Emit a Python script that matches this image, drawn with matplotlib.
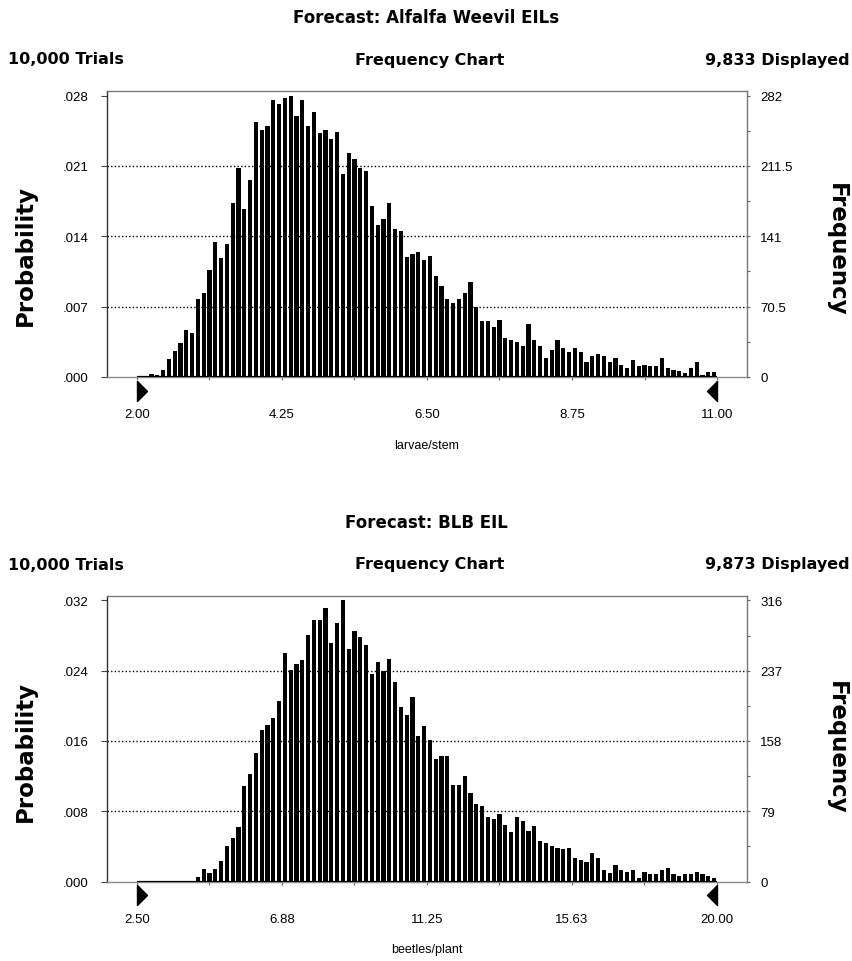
import numpy as np
import matplotlib
matplotlib.use("Agg")
import matplotlib.pyplot as plt
from matplotlib.path import Path

# ---- data ----
trials = 10000

weevil_title = "Forecast: Alfalfa Weevil EILs"
weevil_shown = "9,833 Displayed"
weevil_unit = "larvae/stem"
weevil_range = [2.00, 11.00]
weevil_freq_max = 282
weevil_freq = [0, 0, 3, 2, 7, 18, 26, 34, 47, 44,
               78, 84, 107, 135, 119, 133, 174, 209, 168, 197,
               255, 247, 251, 277, 273, 280, 282, 261, 277, 251,
               265, 244, 247, 238, 245, 203, 224, 218, 209, 206,
               171, 152, 158, 174, 148, 146, 120, 123, 125, 117,
               121, 101, 91, 78, 74, 78, 84, 95, 70, 56,
               56, 50, 57, 39, 37, 35, 31, 53, 37, 31,
               19, 27, 37, 29, 25, 29, 25, 15, 21, 23,
               21, 15, 19, 12, 9, 17, 11, 12, 11, 11,
               19, 9, 7, 6, 4, 9, 15, 2, 5, 5]

blb_title = "Forecast: BLB EIL"
blb_shown = "9,873 Displayed"
blb_unit = "beetles/plant"
blb_range = [2.50, 20.00]
blb_freq_max = 316
blb_freq = [0, 0, 0, 0, 0, 0, 0, 1, 1, 1,
            5, 14, 9, 14, 23, 40, 49, 61, 107, 121,
            144, 170, 176, 184, 203, 257, 238, 245, 249, 277,
            294, 294, 307, 268, 291, 316, 261, 282, 275, 266,
            233, 247, 237, 250, 224, 196, 187, 208, 164, 175,
            159, 138, 141, 141, 108, 108, 119, 99, 87, 85,
            73, 70, 76, 64, 56, 73, 68, 57, 62, 45,
            43, 40, 38, 36, 38, 26, 24, 22, 32, 26,
            13, 10, 18, 13, 11, 13, 4, 11, 8, 8,
            13, 15, 8, 6, 8, 8, 11, 8, 6, 4]

W, H = 853, 962
fig = plt.figure(figsize=(W / 100, H / 100), dpi=100)

HEAD = dict(family="DejaVu Sans", fontweight="bold", fontsize=11.5)
TITLE = dict(family="DejaVu Sans", fontweight="bold", fontsize=12)
SIDE = dict(family="DejaVu Sans", fontweight="bold", fontsize=16.5)
TICKFONT = "Liberation Sans"

# right / left pointing flags under the axis ends
flag_left = Path([(0, 1), (0, -1), (1, 0), (0, 1)])
flag_right = Path([(0, 1), (0, -1), (-1, 0), (0, 1)])


def fy(py):
    return 1 - py / H


def draw_chart(top, bottom, title, shown, unit, xr, fmax, freq, prob_y, freq_y):
    # top/bottom are the frame edges in pixels
    ax = fig.add_axes([107 / W, fy(bottom), 640 / W, (bottom - top) / H])
    lo, hi = xr
    n = len(freq)
    binw = (hi - lo) / n
    centers = lo + (np.arange(n) + 0.5) * binw
    ax.bar(centers, freq, width=binw * 0.7, color="black", zorder=3)
    ax.plot([lo, hi], [0, 0], color="black", lw=1.6, zorder=4, solid_capstyle="butt")

    pad = (hi - lo) * 30 / 580
    ax.set_xlim(lo - pad, hi + pad)
    ax.set_ylim(0, fmax * 1.016)

    yt = np.linspace(0, fmax, 5)
    for v in yt[1:-1]:
        ax.axhline(v, color="black", lw=1, ls=(0, (1, 1.6)), zorder=1)

    xt = np.linspace(lo, hi, 5)
    ax.set_xticks(xt)
    ax.set_xticklabels([f"{v + 1e-9:.2f}" for v in xt], fontsize=9.5, family=TICKFONT)
    ax.set_xticks(np.linspace(lo, hi, 9)[1::2], minor=True)
    ax.tick_params(axis="x", which="both", length=2.5, width=0.8, color="#666666",
                   pad=20)
    ax.set_yticks(yt)
    ax.set_yticklabels([f"{v / trials:.3f}".lstrip("0") for v in yt],
                       fontsize=9.5, family=TICKFONT)
    ax.tick_params(axis="y", length=4, width=0.8, color="#444444", pad=9)

    for s in ["top", "right"]:
        ax.spines[s].set_color("#777777")
        ax.spines[s].set_linewidth(1)
    ax.spines["bottom"].set_color("#888888")
    ax.spines["bottom"].set_linewidth(1)
    ax.spines["left"].set_color("#333333")
    ax.spines["left"].set_linewidth(1)

    axr = ax.twinx()
    axr.set_ylim(ax.get_ylim())
    axr.set_yticks(yt)
    axr.set_yticklabels([f"{v:g}" for v in yt], fontsize=9.5, family=TICKFONT)
    axr.set_yticks((yt[:-1] + yt[1:]) / 2, minor=True)
    axr.tick_params(axis="y", which="both", length=2.5, width=0.8, color="#666666", pad=7)
    for s in axr.spines.values():
        s.set_visible(False)

    tr = ax.get_xaxis_transform()
    yoff = -13.5 / (bottom - top)
    ax.plot([lo], [yoff], marker=flag_left, ms=14.4, color="black",
            transform=tr, clip_on=False, zorder=5)
    ax.plot([hi], [yoff], marker=flag_right, ms=14.4, color="black",
            transform=tr, clip_on=False, zorder=5)

    # header rows
    fig.text(426 / W, fy(top - 74), title, ha="center", va="center", **TITLE)
    fig.text(8 / W, fy(top - 32), "10,000 Trials", ha="left", va="center", **HEAD)
    fig.text(430 / W, fy(top - 32), "Frequency Chart", ha="center", va="center", **HEAD)
    fig.text(850 / W, fy(top - 32), shown, ha="right", va="center", **HEAD)

    fig.text(427 / W, fy(bottom + 68), unit, ha="center", va="center",
             fontsize=9, family=TICKFONT)
    fig.text(25 / W, fy(prob_y), "Probability", rotation=90, ha="center", va="center", **SIDE)
    fig.text(836 / W, fy(freq_y), "Frequency", rotation=270, ha="center", va="center", **SIDE)


draw_chart(92, 378, weevil_title, weevil_shown, weevil_unit, weevil_range,
           weevil_freq_max, weevil_freq, 255, 250)
draw_chart(597, 882.5, blb_title, blb_shown, blb_unit, blb_range,
           blb_freq_max, blb_freq, 752, 748)

fig.savefig("out.png", dpi=100)
